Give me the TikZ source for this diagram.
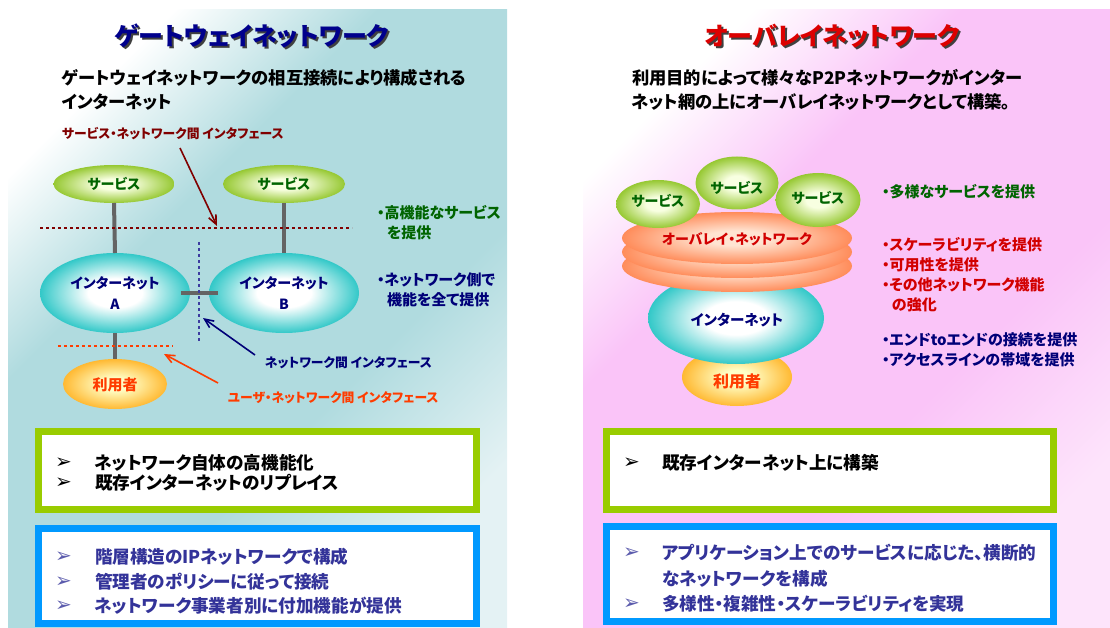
\documentclass[tikz,border=0pt]{standalone}
\usepackage{fontspec}
\setmainfont{Noto Sans CJK JP}[RawFeature=+palt]
\newfontfamily\dvfont{DejaVu Sans}
\usetikzlibrary{shapes.geometric,arrows.meta}
\definecolor{tealbg}{RGB}{176,219,223}
\definecolor{tealend}{RGB}{228,242,244}
\definecolor{pinkbg}{RGB}{250,196,248}
\definecolor{pinkend}{RGB}{253,228,251}
\definecolor{titleblue}{RGB}{0,0,140}
\definecolor{titlered}{RGB}{220,0,0}
\definecolor{dred}{RGB}{128,0,0}
\definecolor{navyc}{RGB}{0,0,120}
\definecolor{bluetxt}{RGB}{51,51,153}
\definecolor{dgreen}{RGB}{0,100,0}
\definecolor{oranger}{RGB}{255,60,0}
\definecolor{redc}{RGB}{210,0,0}
\definecolor{grayc}{RGB}{100,100,100}
\definecolor{boxgreen}{RGB}{153,204,0}
\definecolor{boxblue}{RGB}{0,153,255}
\definecolor{dotblue}{RGB}{60,60,160}
\definecolor{svcin}{RGB}{248,255,225}
\definecolor{svcout}{RGB}{150,200,50}
\definecolor{inetin}{RGB}{255,255,255}
\definecolor{inetout}{RGB}{50,200,200}
\definecolor{usrin}{RGB}{255,255,200}
\definecolor{usrout}{RGB}{255,185,50}
\definecolor{orgin}{RGB}{255,228,210}
\definecolor{orgout}{RGB}{255,140,90}
\pgfdeclareradialshading{svcsh}{\pgfpointorigin}{color(0bp)=(svcin); color(7bp)=(svcin); color(25bp)=(svcout); color(50bp)=(svcout)}
\pgfdeclareradialshading{inetsh}{\pgfpointorigin}{color(0bp)=(inetin); color(9bp)=(inetin); color(25bp)=(inetout); color(50bp)=(inetout)}
\pgfdeclareradialshading{usrsh}{\pgfpointorigin}{color(0bp)=(usrin); color(6bp)=(usrin); color(25bp)=(usrout); color(50bp)=(usrout)}
\pgfdeclareradialshading{orgsh}{\pgfpointorigin}{color(0bp)=(orgin); color(7bp)=(orgin); color(25bp)=(orgout); color(50bp)=(orgout)}
\pgfdeclareverticalshading{tealsh}{100bp}{color(0bp)=(tealend); color(25bp)=(tealend); color(40bp)=(tealbg); color(62bp)=(tealbg); color(75bp)=(white); color(100bp)=(white)}
\pgfdeclareverticalshading{pinksh}{100bp}{color(0bp)=(pinkend); color(25bp)=(pinkend); color(40bp)=(pinkbg); color(62bp)=(pinkbg); color(75bp)=(white); color(100bp)=(white)}
\begin{document}
\begin{tikzpicture}[x=1pt,y=-1pt,
  every node/.style={inner sep=0pt, outer sep=0pt, font=\bfseries},
  svc/.style={ellipse, shade, shading=svcsh},
  inet/.style={ellipse, shade, shading=inetsh},
  usr/.style={ellipse, shade, shading=usrsh},
  olay/.style={ellipse, shade, shading=orgsh, minimum width=230pt, minimum height=52pt},
  ttl/.style={font=\bfseries\fontsize{25}{28}\selectfont},
  sub/.style={anchor=west, font=\bfseries\fontsize{17.3}{20}\selectfont},
  lbl/.style={anchor=west, font=\bfseries\fontsize{12.8}{15}\selectfont},
  note/.style={anchor=west, font=\bfseries\fontsize{15}{17}\selectfont},
  intext/.style={font=\bfseries\fontsize{14}{18}\selectfont, align=center},
  bitem/.style={anchor=west, font=\bfseries\fontsize{17.6}{20}\selectfont},
  mk/.style={anchor=west, font=\dvfont\fontsize{20}{22}\selectfont},
  conn/.style={grayc, line width=4pt},
  dotl/.style={line width=2.8pt, dash pattern=on 3pt off 3pt},
  arr/.style={line width=1.6pt, -{Straight Barb[length=9pt,width=8pt,line width=1.6pt]}},
  boxg/.style={boxgreen, line width=7pt, fill=white},
  boxb/.style={boxblue, line width=7pt, fill=white}]
\useasboundingbox (0,0) rectangle (1110,628);
% panels
\shade[shading=tealsh, shading angle=45] (8,10) rectangle (507,628);
\shade[shading=pinksh, shading angle=45] (583,10) rectangle (1110,628);

% titles
\node[ttl, text=black!75] (t1s) at (254,38) {ゲートウェイネットワーク};
\node[ttl, text=titleblue] (t1) at (252,36) {ゲートウェイネットワーク};
\node[ttl, text=black!75] (t2s) at (834,38) {オーバレイネットワーク};
\node[ttl, text=titlered] (t2) at (832,36) {オーバレイネットワーク};

\node[sub] (s1a) at (62,78) {ゲートウェイネットワークの相互接続により構成される};
\node[sub] (s1b) at (62,102) {インターネット};
\node[sub] (s2a) at (632,78) {利用目的によって様々なP2Pネットワークがインター};
\node[sub] (s2b) at (632,102) {ネット網の上にオーバレイネットワークとして構築。};

% left diagram
\node[svc, minimum width=121pt, minimum height=38pt] (sv1) at (114,184) {};
\node[svc, minimum width=122pt, minimum height=38pt] (sv2) at (284,184) {};
\node[inet, minimum width=150pt, minimum height=80pt] (ia) at (115,293) {};
\node[inet, minimum width=150pt, minimum height=80pt] (ib) at (284,293) {};
\node[usr, minimum width=104pt, minimum height=50pt] (u1) at (115,384) {};
\draw[conn] (sv1.south) -- (ia.north);
\draw[conn] (sv2.south) -- (ib.north);
\draw[conn] (ia.south) -- (u1.north);
\draw[conn] ([xshift=-9pt]ia.east) -- ([xshift=9pt]ib.west);

\node[intext, text=dgreen] (sv1t) at (114,184) {サービス};
\node[intext, text=dgreen] (sv2t) at (284,184) {サービス};
\node[intext, text=navyc] (iat) at (115,293) {インターネット\\[3pt]A};
\node[intext, text=navyc] (ibt) at (284,293) {インターネット\\[3pt]B};
\node[intext, text=oranger, font=\bfseries\fontsize{15}{18}\selectfont] (u1t) at (115,385) {利用者};

\coordinate (d1a) at (40,228); \coordinate (d1b) at (352,228);
\coordinate (d2a) at (199,242); \coordinate (d2b) at (199,343);
\coordinate (d3a) at (58,346); \coordinate (d3b) at (173,346);
\draw[dotl, dred] (d1a) -- (d1b);
\draw[dotl, dotblue] (d2a) -- (d2b);
\draw[dotl, oranger] (d3a) -- (d3b);

\node[lbl, text=dred] (lsn) at (62,134) {サービス・ネットワーク間 インタフェース};
\node[lbl, text=navyc] (lnn) at (265,363) {ネットワーク間 インタフェース};
\node[lbl, text=oranger] (lun) at (228,398) {ユーザ・ネットワーク間 インタフェース};
\coordinate (a1s) at (180,148); \coordinate (a1e) at (217,226);
\coordinate (a2s) at (255,355); \coordinate (a2e) at (203,318);
\coordinate (a3s) at (218,383); \coordinate (a3e) at (164,354);
\draw[arr, dred] (a1s) -- (a1e);
\draw[arr, navyc] (a2s) -- (a2e);
\draw[arr, oranger] (a3s) -- (a3e);

\node[note, text=dgreen] (n1) at (377,213) {・高機能なサービス};
\node[note, text=dgreen] (n2) at (387,233) {を提供};
\node[note, text=navyc] (n3) at (377,280) {・ネットワーク側で};
\node[note, text=navyc] (n4) at (387,300) {機能を全て提供};

% right diagram
\node[usr, minimum width=110pt, minimum height=58pt] (u2) at (737,377) {};
\node[inet, minimum width=176pt, minimum height=92pt] (i2) at (736,318) {};
\node[olay] (o3) at (737,266) {};
\node[olay] (o2) at (737,252) {};
\node[olay] (o1) at (737,238) {};
\node[svc, minimum width=84pt, minimum height=48pt] (r1) at (658,204) {};
\node[svc, minimum width=85pt, minimum height=54pt] (r3) at (818,200) {};
\node[svc, minimum width=83pt, minimum height=53pt] (r2) at (737,183) {};
\node[intext, text=dgreen] (r1t) at (658,201) {サービス};
\node[intext, text=dgreen] (r2t) at (737,188) {サービス};
\node[intext, text=dgreen] (r3t) at (818,198) {サービス};
\node[intext, text=redc] (o1t) at (737,239) {オーバレイ・ネットワーク};
\node[intext, text=navyc, font=\bfseries\fontsize{14.5}{18}\selectfont] (i2t) at (737,320) {インターネット};
\node[intext, text=oranger, font=\bfseries\fontsize{16}{18}\selectfont] (u2t) at (737,381) {利用者};

\node[note, text=dgreen] (m1) at (882,192) {・多様なサービスを提供};
\node[note, text=redc] (m2) at (882,245) {・スケーラビリティを提供};
\node[note, text=redc] (m3) at (882,265) {・可用性を提供};
\node[note, text=redc] (m4) at (882,285) {・その他ネットワーク機能};
\node[note, text=redc] (m5) at (892,305) {の強化};
\node[note, text=navyc] (m6) at (882,340) {・エンドtoエンドの接続を提供};
\node[note, text=navyc] (m7) at (882,360) {・アクセスラインの帯域を提供};

% boxes
\draw[boxg] (38.5,431.5) rectangle (476.5,509.5);
\draw[boxb] (38.5,528.5) rectangle (476.5,623.5);
\draw[boxg] (606.5,431.5) rectangle (1053.5,509.5);
\draw[boxb] (606.5,526.5) rectangle (1053.5,621.5);

\node[mk] (k1) at (55,463) {➢};
\node[bitem] (b1) at (95,463) {ネットワーク自体の高機能化};
\node[mk] (k2) at (55,483) {➢};
\node[bitem] (b2) at (95,483) {既存インターネットのリプレイス};
\node[mk, text=bluetxt!80] (k3) at (55,557) {➢};
\node[bitem, text=bluetxt] (b3) at (95,557) {階層構造のIPネットワークで構成};
\node[mk, text=bluetxt!80] (k4) at (55,582) {➢};
\node[bitem, text=bluetxt] (b4) at (95,582) {管理者のポリシーに従って接続};
\node[mk, text=bluetxt!80] (k5) at (55,606) {➢};
\node[bitem, text=bluetxt] (b5) at (95,606) {ネットワーク事業者別に付加機能が提供};

\node[mk] (k6) at (623,463) {➢};
\node[bitem] (b6) at (662,463) {既存インターネット上に構築};
\node[mk, text=bluetxt!80] (k7) at (623,553) {➢};
\node[bitem, text=bluetxt] (b7) at (662,553) {アプリケーション上でのサービスに応じた、横断的};
\node[bitem, text=bluetxt] (b8) at (662,579) {なネットワークを構成};
\node[mk, text=bluetxt!80] (k8) at (623,604) {➢};
\node[bitem, text=bluetxt] (b9) at (662,604) {多様性・複雑性・スケーラビリティを実現};
\end{tikzpicture}
\end{document}
